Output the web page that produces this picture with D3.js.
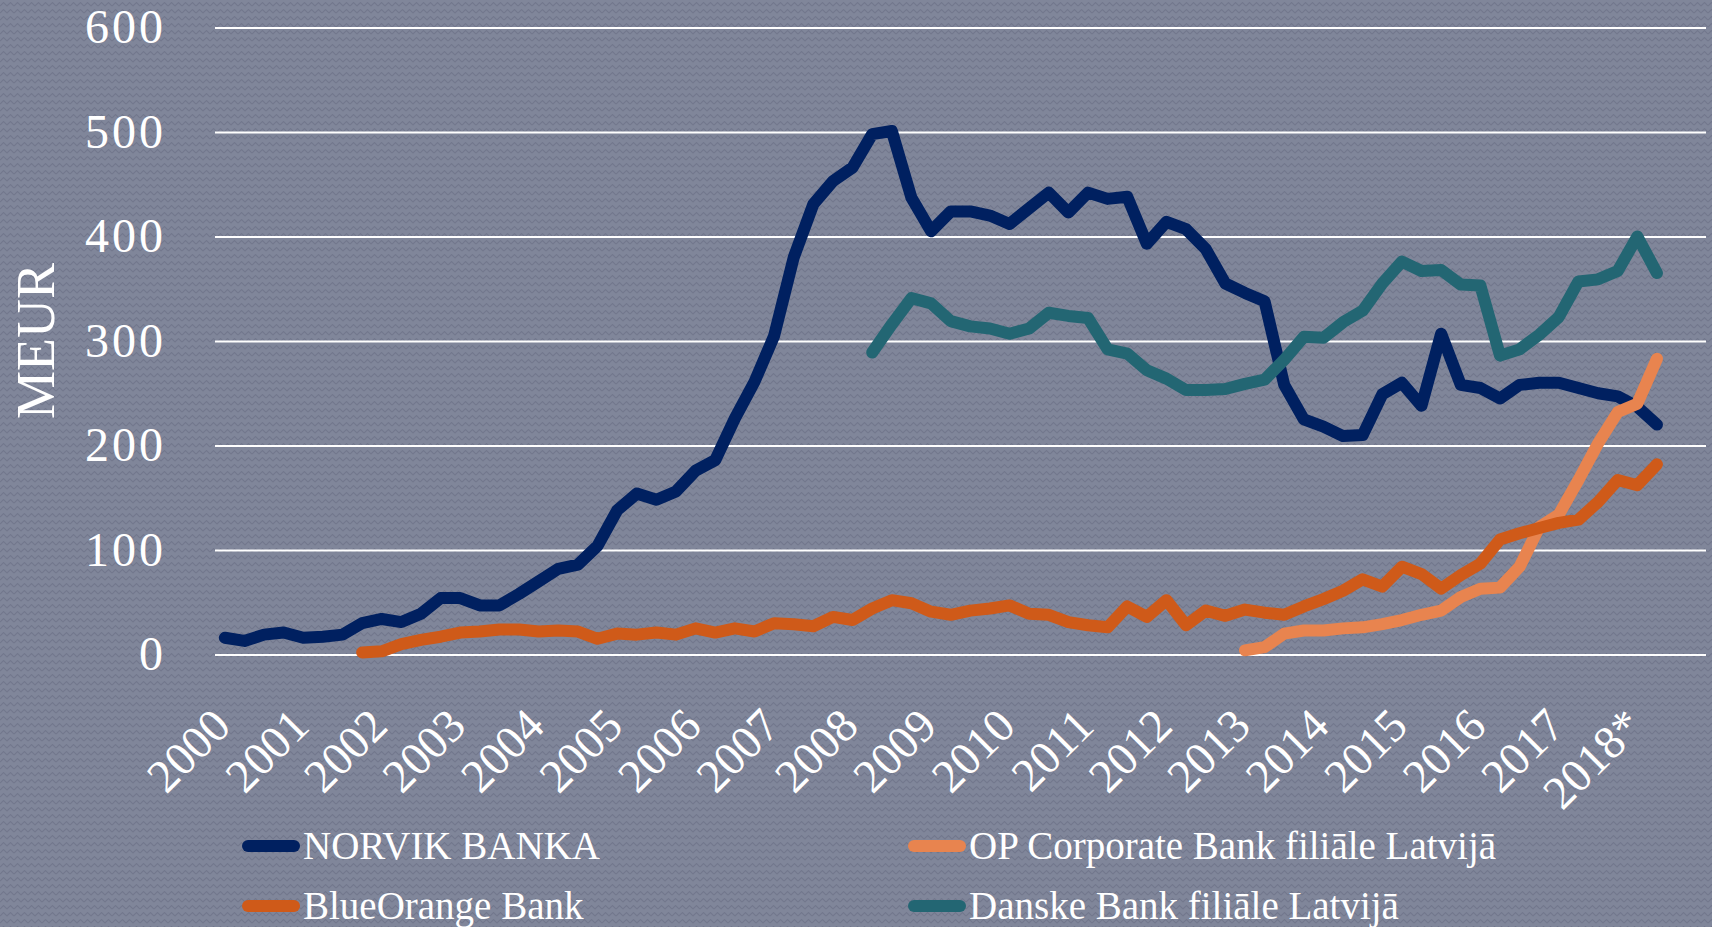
<!DOCTYPE html>
<html>
<head>
<meta charset="utf-8">
<script src="https://cdn.jsdelivr.net/npm/d3@7"></script>
<style>
  body { margin: 0; background: #7f8598; }
  svg { display: block; }
  text { font-family: "Liberation Serif", "Times New Roman", serif; fill: #fff; }
</style>
</head>
<body>
<svg id="chart"></svg>
<script>
// quarterly categories, labelled by year
const years = ['2000', '2001', '2002', '2003', '2004', '2005', '2006', '2007', '2008', '2009',
  '2010', '2011', '2012', '2013', '2014', '2015', '2016', '2017', '2018*'];
const quarters = ['Q1', 'Q2', 'Q3', 'Q4'];
const yTicks = [0, 100, 200, 300, 400, 500, 600];

const seriesNames = ['NORVIK BANKA', 'OP Corporate Bank filiāle Latvijā', 'BlueOrange Bank', 'Danske Bank filiāle Latvijā'];

// MEUR, from 2000 Q1
const norvik = [16, 13, 19, 21, 16, 17, 19, 30, 34, 31, 39, 54, 54, 47, 47, 58, 70, 82, 86, 104,
  138, 154, 148, 156, 176, 186, 226, 261, 305, 380, 431, 453, 466, 498, 501, 437, 405, 424, 424, 420,
  412, 427, 442, 423, 442, 436, 438, 393, 414, 407, 388, 355, 346, 338, 258, 225, 218, 209, 210, 249,
  260, 238, 307, 258, 255, 245, 258, 260, 260, 255, 250, 247, 237, 220];
// from 2001 Q4
const blueOrange = [2, 3, 10, 14, 17, 21, 22, 24, 24, 22, 23, 22, 15, 20, 19, 21, 19, 25, 21, 25,
  22, 30, 29, 27, 36, 33, 44, 52, 49, 41, 38, 42, 44, 47, 39, 38, 31, 28, 26, 46,
  36, 52, 28, 42, 37, 43, 40, 38, 46, 53, 61, 72, 65, 84, 77, 63, 76, 87, 110, 116,
  121, 126, 129, 146, 167, 162, 182];
// from 2013 Q1
const opCorporate = [4, 7, 20, 23, 23, 25, 26, 29, 33, 38, 42, 55, 63, 64, 84, 122, 134, 167, 202, 232, 240, 283];
// from 2008 Q2
const danske = [289, 316, 341, 336, 319, 314, 312, 307, 312, 327, 324, 322, 292, 288, 272, 264, 253, 253, 254, 259,
  263, 282, 304, 303, 318, 329, 355, 376, 367, 368, 354, 353, 286, 292, 306, 323, 357, 359, 367, 400, 365];

const W = 1712, H = 927;
const plot = { left: 215, right: 1706, top: 27.5, bottom: 654.5 };

const categories = years.flatMap(y => quarters.map(q => y + '|' + q));

const series = [
  { name: seriesNames[0], color: '#002060', start: '2000|Q1', values: norvik },
  { name: seriesNames[1], color: '#e8844f', start: '2013|Q1', values: opCorporate },
  { name: seriesNames[2], color: '#cf5a19', start: '2001|Q4', values: blueOrange },
  { name: seriesNames[3], color: '#236673', start: '2008|Q2', values: danske }
];

const svg = d3.select('#chart').attr('width', W).attr('height', H);

// patterned backdrop
const defs = svg.append('defs');
const pat = defs.append('pattern').attr('id', 'bg')
  .attr('width', 14).attr('height', 14).attr('patternUnits', 'userSpaceOnUse');
pat.append('rect').attr('width', 14).attr('height', 14).attr('fill', '#80869a');
pat.append('path')
  .attr('d', 'M0 6 L3.5 2.5 L7 6 L10.5 2.5 L14 6 M0 13 L3.5 9.5 L7 13 L10.5 9.5 L14 13')
  .attr('fill', 'none').attr('stroke', '#6d7388').attr('stroke-width', 1.2).attr('opacity', 0.75);
svg.append('rect').attr('width', W).attr('height', H).attr('fill', 'url(#bg)');

const x = d3.scaleBand().domain(categories).range([plot.left, plot.right]);
const y = d3.scaleLinear().domain([0, 600]).range([plot.bottom, plot.top]);

// y axis + gridlines
const gy = svg.append('g').attr('transform', `translate(${plot.left},0)`)
  .call(d3.axisLeft(y).tickValues(yTicks).tickSize(-(plot.right - plot.left)).tickPadding(49));
gy.select('.domain').remove();
gy.selectAll('.tick line').attr('stroke', '#fff').attr('stroke-width', 2);
gy.selectAll('.tick text').attr('fill', '#fff')
  .style('font-size', '48px')
  .style('letter-spacing', '3px')
  .style('font-family', '"Liberation Serif", serif');

// x axis, one label per year
const gx = svg.append('g').attr('transform', `translate(0,${plot.bottom})`)
  .call(d3.axisBottom(x)
    .tickValues(categories.filter((c, i) => i % 4 === 0))
    .tickFormat(c => c.split('|')[0])
    .tickSize(0));
gx.select('.domain').remove();
gx.selectAll('.tick text')
  .attr('y', 0).attr('dy', 0)
  .attr('transform', 'translate(8,74) rotate(-45)')
  .attr('text-anchor', 'end')
  .attr('fill', '#fff')
  .style('font-size', '47px')
  .style('font-family', '"Liberation Serif", serif');

// axis title
svg.append('text')
  .attr('transform', 'translate(54,341) rotate(-90)')
  .attr('text-anchor', 'middle')
  .style('font-size', '54px')
  .text('MEUR');

// lines
const line = d3.line()
  .x(d => x(d.c) + x.bandwidth() / 2)
  .y(d => y(d.v));

series.forEach(s => {
  const i0 = categories.indexOf(s.start);
  const pts = s.values.map((v, i) => ({ c: categories[i0 + i], v }));
  svg.append('path')
    .datum(pts)
    .attr('fill', 'none')
    .attr('stroke', s.color)
    .attr('stroke-width', 12)
    .attr('stroke-linejoin', 'round')
    .attr('stroke-linecap', 'round')
    .attr('d', line);
});

// legend, two columns
const legendCols = [248, 914];
const legendRows = [846, 906];
series.forEach((s, k) => {
  const lx = legendCols[k % 2], ly = legendRows[Math.floor(k / 2)];
  const lg = svg.append('g').attr('transform', `translate(${lx},${ly})`);
  lg.append('line').attr('x1', 0).attr('x2', 46).attr('y1', 0).attr('y2', 0)
    .attr('stroke', s.color).attr('stroke-width', 12).attr('stroke-linecap', 'round');
  lg.append('text').attr('x', 55).attr('y', 13)
    .style('font-size', '39px')
    .text(s.name);
});
</script>
</body>
</html>
